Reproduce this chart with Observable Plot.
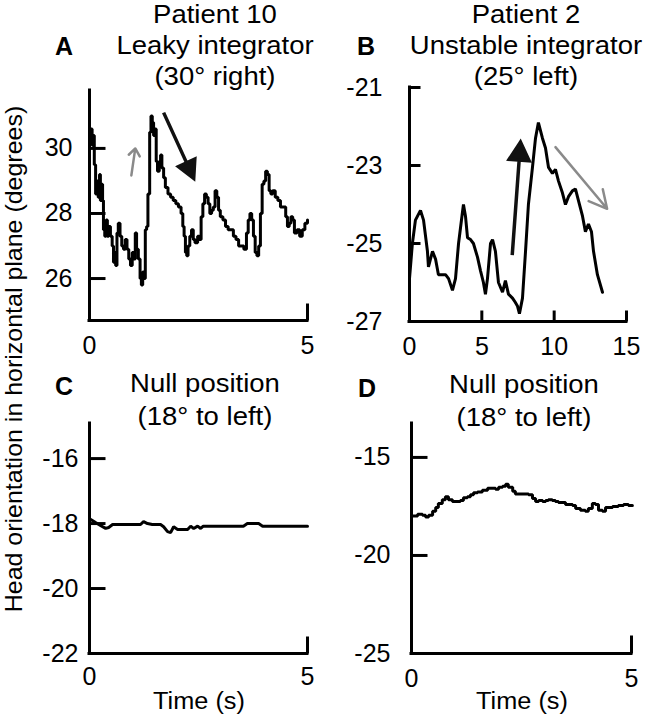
<!DOCTYPE html>
<html>
<head>
<meta charset="utf-8">
<script src="https://cdn.jsdelivr.net/npm/d3@7"></script>
<script src="https://cdn.jsdelivr.net/npm/@observablehq/plot@0.6"></script>
<style>
  body { margin: 0; background: #fff; }
  #fig { position: relative; width: 645px; height: 719px; overflow: hidden; background: #fff; color: #000;
         font-family: "Liberation Sans", Arial, Helvetica, sans-serif; }
  .ttl { position: absolute; width: 300px; text-align: center; font-size: 25px; line-height: 31px;
         white-space: nowrap; transform: scaleX(1.1); }
  .ttl.low { line-height: 33px; }
  .plet { position: absolute; width: 40px; text-align: center; font-weight: 700; font-size: 25px; line-height: 25px; }
  .xt { position: absolute; width: 200px; text-align: center; font-size: 23px; line-height: 23px; transform: scaleX(1.1); }
  .yt { position: absolute; width: 600px; height: 22px; text-align: center; font-size: 24px; line-height: 22px;
        white-space: nowrap; transform: rotate(-90deg) scaleX(1.04); }
  .pbox { position: absolute; }
</style>
</head>
<body>
<div id="fig">
  <div class="plet" style="left:44px;top:34px">A</div>
  <div class="plet" style="left:346px;top:34px">B</div>
  <div class="plet" style="left:44px;top:374px">C</div>
  <div class="plet" style="left:347px;top:376px">D</div>
  <div class="ttl" style="left:65px;top:-1px">Patient 10<br>Leaky integrator<br>(30° right)</div>
  <div class="ttl" style="left:376px;top:-1px">Patient 2<br>Unstable integrator<br>(25° left)</div>
  <div class="ttl low" style="left:55px;top:367px">Null position<br>(18° to left)</div>
  <div class="ttl low" style="left:374px;top:368px">Null position<br>(18° to left)</div>
  <div class="xt" style="left:99px;top:690px">Time (s)</div>
  <div class="xt" style="left:422px;top:690px">Time (s)</div>
  <div class="yt" style="left:-286px;top:348px">Head orientation in horizontal plane (degrees)</div>
  <div class="pbox" id="pA" style="left:0px;top:80px"></div>
  <div class="pbox" id="pB" style="left:330px;top:77px"></div>
  <div class="pbox" id="pC" style="left:0px;top:413px"></div>
  <div class="pbox" id="pD" style="left:330px;top:413px"></div>
</div>
<script>
// ---------------- data (time in s, head angle in degrees) ----------------
const traceA = [[0.00,30.2],[0.03,30.6],[0.06,30.1],[0.09,30.4],[0.11,29.5],[0.14,28.6],[0.17,29.0],[0.20,28.5],[0.23,29.2],[0.25,28.4],[0.28,28.9],[0.30,28.4],[0.32,27.5],[0.35,27.3],[0.38,27.8],[0.41,27.3],[0.44,27.6],[0.48,27.3],[0.52,27.0],[0.55,26.5],[0.58,26.8],[0.60,26.4],[0.63,27.4],[0.66,27.7],[0.70,27.3],[0.74,27.0],[0.78,26.9],[0.82,27.2],[0.86,26.9],[0.90,26.6],[0.94,26.4],[0.98,26.8],[1.02,26.6],[1.05,27.4],[1.08,26.9],[1.12,26.6],[1.16,26.0],[1.19,25.8],[1.22,26.2],[1.25,26.0],[1.28,27.5],[1.31,27.6],[1.34,28.6],[1.38,30.5],[1.41,31.0],[1.44,30.8],[1.47,30.4],[1.50,30.6],[1.53,29.6],[1.56,29.3],[1.60,29.6],[1.63,29.8],[1.66,29.4],[1.70,29.1],[1.74,28.8],[1.80,28.6],[1.86,28.5],[1.92,28.4],[1.98,28.3],[2.04,28.2],[2.10,28.0],[2.14,27.6],[2.17,27.3],[2.20,26.8],[2.23,26.7],[2.26,27.0],[2.30,27.3],[2.34,27.5],[2.38,27.2],[2.42,27.1],[2.48,27.3],[2.52,27.2],[2.56,27.9],[2.60,28.3],[2.64,28.6],[2.68,28.5],[2.72,28.3],[2.76,28.0],[2.80,28.1],[2.84,28.2],[2.88,28.7],[2.92,28.5],[2.96,28.1],[3.00,27.9],[3.06,27.8],[3.12,27.6],[3.18,27.5],[3.24,27.5],[3.30,27.3],[3.36,27.2],[3.42,27.0],[3.48,27.0],[3.54,26.9],[3.60,27.4],[3.64,27.8],[3.68,28.0],[3.72,27.8],[3.76,27.3],[3.80,26.8],[3.84,26.7],[3.88,27.0],[3.92,28.0],[3.96,28.9],[4.00,29.0],[4.04,29.3],[4.08,29.2],[4.12,28.7],[4.16,28.6],[4.20,28.7],[4.26,28.5],[4.32,28.4],[4.38,28.2],[4.44,28.2],[4.50,27.9],[4.54,27.6],[4.58,27.7],[4.62,27.9],[4.66,27.8],[4.70,27.4],[4.76,27.5],[4.82,27.3],[4.88,27.5],[4.94,27.7],[5.00,27.8]];

const traceB = [[0.00,-25.9],[0.20,-25.0],[0.41,-24.4],[0.76,-24.15],[0.97,-24.4],[1.24,-25.2],[1.31,-25.6],[1.59,-25.2],[1.80,-25.4],[2.00,-25.8],[2.28,-25.8],[2.49,-25.8],[2.70,-25.9],[2.97,-26.2],[3.18,-25.9],[3.39,-25.0],[3.66,-24.2],[3.73,-24.0],[3.87,-24.3],[4.01,-24.85],[4.22,-24.9],[4.42,-25.0],[4.70,-25.35],[4.91,-25.7],[5.11,-26.0],[5.25,-26.3],[5.39,-25.9],[5.60,-25.0],[5.74,-24.9],[5.94,-25.2],[6.15,-26.0],[6.43,-26.25],[6.63,-25.95],[6.84,-26.3],[7.12,-26.4],[7.30,-26.5],[7.46,-26.6],[7.60,-26.8],[7.81,-26.4],[8.02,-25.2],[8.22,-24.0],[8.50,-23.05],[8.71,-22.3],[8.91,-21.9],[9.19,-22.3],[9.40,-22.55],[9.61,-23.05],[9.88,-23.2],[10.09,-23.1],[10.30,-23.4],[10.57,-23.7],[10.78,-24.0],[10.99,-23.8],[11.26,-23.65],[11.47,-23.6],[11.68,-23.9],[11.96,-24.3],[12.16,-24.7],[12.37,-24.5],[12.58,-24.7],[12.72,-25.2],[12.99,-25.8],[13.34,-26.25]];

const traceC = [[0.00,-17.85],[0.14,-17.97],[0.25,-18.06],[0.37,-18.15],[0.44,-18.12],[0.53,-18.03],[0.60,-18.03],[1.17,-18.03],[1.24,-17.94],[1.33,-18.0],[1.44,-18.03],[1.63,-18.03],[1.70,-18.1],[1.79,-18.25],[1.86,-18.28],[1.93,-18.1],[2.02,-18.18],[2.25,-18.18],[2.32,-18.08],[2.39,-18.15],[2.48,-18.08],[2.55,-18.15],[2.61,-18.08],[2.71,-18.08],[3.53,-18.08],[3.62,-18.0],[3.88,-18.0],[3.97,-18.08],[5.00,-18.08]];

const traceD = [[0.02,-17.99],[0.14,-17.9],[0.25,-17.95],[0.32,-18.04],[0.39,-17.95],[0.48,-17.75],[0.55,-17.55],[0.61,-17.35],[0.70,-17.16],[0.77,-17.0],[0.84,-17.16],[0.93,-17.25],[1.05,-17.25],[1.11,-17.2],[1.18,-17.06],[1.27,-17.0],[1.34,-16.9],[1.41,-16.8],[1.50,-16.76],[1.61,-16.67],[1.73,-16.57],[1.84,-16.57],[1.91,-16.62],[1.98,-16.52],[2.07,-16.47],[2.14,-16.37],[2.20,-16.52],[2.30,-16.72],[2.36,-16.86],[2.59,-16.86],[2.66,-16.9],[2.75,-17.1],[2.82,-17.25],[2.89,-17.2],[2.98,-17.25],[3.05,-17.2],[3.11,-17.16],[3.20,-17.2],[3.27,-17.25],[3.34,-17.3],[3.50,-17.4],[3.66,-17.45],[3.73,-17.6],[3.84,-17.7],[3.95,-17.75],[4.02,-17.6],[4.11,-17.35],[4.18,-17.4],[4.25,-17.7],[4.34,-17.75],[4.41,-17.55],[4.57,-17.5],[4.70,-17.45],[4.82,-17.4],[4.93,-17.45],[5.02,-17.45]];

// arrows (data units): tail (x1,y1) -> head (x2,y2)
const arrowsA = [
  {x1: 0.96, y1: 29.17, x2: 1.05, y2: 30.0, kind: "gray"},
  {x1: 1.70, y1: 31.1, x2: 2.39, y2: 29.08, kind: "black"}
];
const arrowsB = [
  {x1: 7.10, y1: -25.3, x2: 7.67, y2: -22.4, kind: "black"},
  {x1: 10.09, y1: -22.53, x2: 13.66, y2: -24.11, kind: "gray"}
];

// axis ticks & labels
const xLabelsA = [0, 5], xTicksA = [5], yLabelsA = [26, 28, 30], yTicksA = [26, 28, 30];
const xLabelsB = [0, 5, 10, 15], xTicksB = [5, 10, 15], yLabelsB = [-21, -23, -25, -27], yTicksB = [-21, -23, -25];
const xLabelsC = [0, 5], xTicksC = [5], yLabelsC = [-16, -18, -20, -22], yTicksC = [-16, -18, -20];
const xLabelsD = [0, 5], xTicksD = [5], yLabelsD = [-15, -20, -25], yTicksD = [-15, -20];

// ---------------- drawing ----------------
const FONT = '"Liberation Sans", Arial, Helvetica, sans-serif';

function filledHead(headLen, headW) {
  return {
    draw(ctx, l) {
      ctx.moveTo(0, 0);
      ctx.lineTo(0, -(l - headLen));
      ctx.moveTo(0, -l);
      ctx.lineTo(-headW / 2, -l + headLen);
      ctx.lineTo(headW / 2, -l + headLen);
      ctx.closePath();
    }
  };
}

function panel(cfg) {
  const {trace, size, xDomain, yDomain, m, xLabels, xTicks, yLabels, yTicks,
         yTickLen, xTickLen, yPad, xPad, curve, arrows = [], head = [16, 17], grayHead = [9, 70]} = cfg;
  const [W, H] = size;
  const frameW = W - m[3] - m[1], frameH = H - m[0] - m[2];
  const pxX = frameW / (xDomain[1] - xDomain[0]);
  const pxY = frameH / (yDomain[1] - yDomain[0]);
  const x0 = xDomain[0], y0 = yDomain[0];
  const xTickEnd = x0 + yTickLen / pxX;   // length of inward y ticks, in x units
  const yTickEnd = y0 + xTickLen / pxY;   // length of inward x ticks, in y units
  // tick segments as two-point paths, one per tick value
  const ySeg = yTicks.flatMap(v => [{x: x0, y: v, k: v}, {x: xTickEnd, y: v, k: v}]);
  const xSeg = xTicks.flatMap(v => [{x: v, y: y0, k: v}, {x: v, y: yTickEnd, k: v}]);
  const arrowMarks = arrows.map(a => {
    if (a.kind === "gray") {
      return Plot.arrow([a], {x1: "x1", y1: "y1", x2: "x2", y2: "y2", stroke: "#8a8a8a",
        strokeWidth: 2.5, headLength: grayHead[0], headAngle: grayHead[1]});
    }
    const dx = (a.x2 - a.x1) * pxX, dy = -(a.y2 - a.y1) * pxY;
    const len = Math.hypot(dx, dy);
    const rot = Math.atan2(dx, -dy) * 180 / Math.PI;
    return Plot.vector([a], {x: "x1", y: "y1", length: len, rotate: rot, anchor: "start",
      shape: filledHead(head[0], head[1]), stroke: "#111", fill: "#111", strokeWidth: 3.5,
      strokeLinejoin: "miter", strokeLinecap: "butt"});
  });
  return Plot.plot({
    width: W, height: H,
    marginTop: m[0], marginRight: m[1], marginBottom: m[2], marginLeft: m[3],
    style: {background: "transparent", fontFamily: FONT, color: "#000", overflow: "visible"},
    x: {domain: xDomain, axis: null},
    y: {domain: yDomain, axis: null},
    marks: [
      Plot.axisY(yLabels, {tickSize: 0, tickPadding: yPad, fontSize: 25, tickFormat: d => String(d), label: null}),
      Plot.axisX(xLabels, {tickSize: 0, tickPadding: xPad, fontSize: 25, tickFormat: d => String(d), label: null}),
      Plot.line(trace, {x: d => d[0], y: d => d[1], curve, stroke: "#000", strokeWidth: 3, strokeLinejoin: "miter"}),
      // inward tick marks
      Plot.line(ySeg, {x: "x", y: "y", z: "k", stroke: "#000", strokeWidth: 3, strokeLinecap: "butt"}),
      Plot.line(xSeg, {x: "x", y: "y", z: "k", stroke: "#000", strokeWidth: 3, strokeLinecap: "butt"}),
      Plot.ruleX([x0], {stroke: "#000", strokeWidth: 3, strokeLinecap: "square"}),
      Plot.ruleY([y0], {stroke: "#000", strokeWidth: 3, strokeLinecap: "square"}),
      ...arrowMarks
    ]
  });
}

document.getElementById("pA").appendChild(panel({trace: traceA, size: [330, 280], xDomain: [0, 5], yDomain: [24.71, 31.78],
  m: [10, 23, 40, 89], xLabels: xLabelsA, xTicks: xTicksA, yLabels: yLabelsA, yTicks: yTicksA,
  yTickLen: 16, xTickLen: 17, yPad: 17, xPad: 16, curve: "step-after", arrows: arrowsA,
  head: [17, 18], grayHead: [8, 75]}));
document.getElementById("pB").appendChild(panel({trace: traceB, size: [315, 283], xDomain: [0, 15], yDomain: [-27, -21],
  m: [10, 19, 39, 79], xLabels: xLabelsB, xTicks: xTicksB, yLabels: yLabelsB, yTicks: yTicksB,
  yTickLen: 11, xTickLen: 11, yPad: 27, xPad: 16, curve: "linear", arrows: arrowsB,
  head: [18, 20], grayHead: [12, 55]}));
document.getElementById("pC").appendChild(panel({trace: traceC, size: [330, 306], xDomain: [0, 5], yDomain: [-22, -14.92],
  m: [10, 23, 66, 89], xLabels: xLabelsC, xTicks: xTicksC, yLabels: yLabelsC, yTicks: yTicksC,
  yTickLen: 16, xTickLen: 17, yPad: 11, xPad: 14, curve: "linear"}));
document.getElementById("pD").appendChild(panel({trace: traceD, size: [315, 306], xDomain: [0, 5], yDomain: [-25, -13.27],
  m: [10, 14, 66, 81], xLabels: xLabelsD, xTicks: xTicksD, yLabels: yLabelsD, yTicks: yTicksD,
  yTickLen: 16, xTickLen: 18, yPad: 21, xPad: 16, curve: "step-after"}));
</script>
</body>
</html>
